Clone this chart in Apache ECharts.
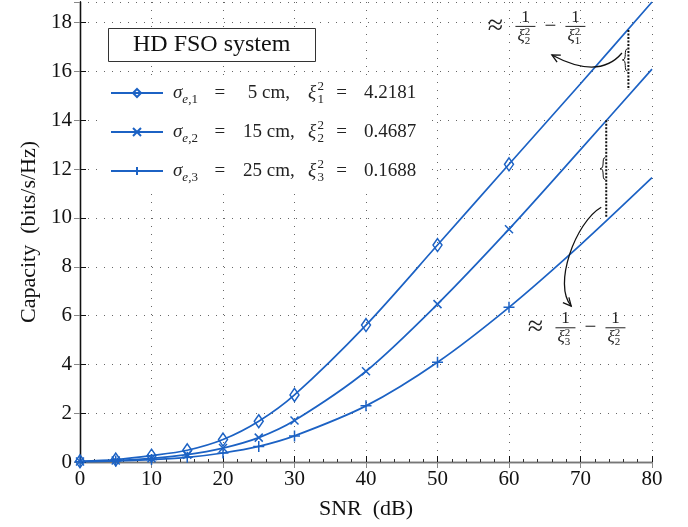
<!DOCTYPE html>
<html>
<head>
<meta charset="utf-8">
<script src="https://cdn.jsdelivr.net/npm/echarts@6/dist/echarts.min.js"></script>
<style>
  html, body { margin: 0; padding: 0; background: #fff; }
  #chart { width: 688px; height: 527px; }
</style>
</head>
<body>
<div id="chart"></div>
<script>
const snr = [0, 5, 10, 15, 20, 25, 30, 40, 50, 60, 70, 80];
const markerSnr = [0, 5, 10, 15, 20, 25, 30, 40, 50, 60];
const capacity1 = [0.03, 0.1, 0.26, 0.48, 0.92, 1.67, 2.75, 5.61, 8.89, 12.2, 15.5, 18.85];
const capacity2 = [0.02, 0.06, 0.15, 0.3, 0.57, 1.0, 1.7, 3.72, 6.47, 9.54, 12.8, 16.1];
const capacity3 = [0.01, 0.04, 0.1, 0.19, 0.37, 0.64, 1.07, 2.3, 4.09, 6.34, 8.9, 11.65];
const seriesNames = ['s1', 's2', 's3'];
const sigmaCm = ['5', '15', '25'];
const xiSquared = ['4.2181', '0.4687', '0.1688'];

const serif = '"Liberation Serif", "DejaVu Serif", serif';
const blue = '#1c62c4';
const chart = echarts.init(document.getElementById('chart'), null, { renderer: 'canvas' });

function seriesData(values) {
  return snr.map((x, i) => ({
    value: [x, values[i]],
    symbol: markerSnr.includes(x) ? undefined : 'none',
  }));
}

function lineSeries(name, values, symbol, size, fill) {
  return {
    name,
    type: 'line',
    smooth: 0.3,
    data: seriesData(values),
    symbol,
    symbolSize: size,
    showAllSymbol: true,
    lineStyle: { color: blue, width: 1.7 },
    itemStyle: { color: fill, borderColor: blue, borderWidth: 1.5 },
    emphasis: { disabled: true },
    z: 3,
  };
}

// right-aligned tail: the zero-width sup ends where the sub ends, so they stack
function legendLabel(name) {
  const i = seriesNames.indexOf(name);
  return `{i|σ}{sbi|e}{sb|,${i + 1}}{eq|=}{v|${sigmaCm[i]} cm,}{gap|}{ir|ξ}{sbz|${i + 1}}{sp|2}{eq2|=}{t|${xiSquared[i]}}`;
}

const richBase = { fontFamily: serif, fontSize: 19, color: '#222', lineHeight: 26 };
const smallRich = { fontFamily: serif, fontSize: 13, color: '#222', lineHeight: 14 };
const legendRich = {
  i: { ...richBase, fontStyle: 'italic' },
  sbi: { ...smallRich, fontStyle: 'italic', verticalAlign: 'bottom' },
  sb: { ...smallRich, verticalAlign: 'bottom' },
  eq: { ...richBase, width: 44, align: 'center' },
  v: { ...richBase, width: 54, align: 'right' },
  gap: { ...richBase, width: 12, align: 'center' },
  ir: { ...richBase, fontStyle: 'italic', align: 'right' },
  sbz: { ...smallRich, verticalAlign: 'bottom', width: 8, align: 'right' },
  sp: { ...smallRich, verticalAlign: 'top', width: 0.01, align: 'right' },
  eq2: { ...richBase, width: 23, align: 'right' },
  t: { ...richBase, align: 'right', padding: [0, 0, 0, 17] },
};

const option = {
  animation: false,
  backgroundColor: '#fff',
  title: {
    text: 'HD FSO system',
    left: 108,
    top: 28,
    padding: [5, 25, 5, 25],
    borderColor: '#333',
    borderWidth: 1,
    backgroundColor: '#fff',
    textStyle: { fontFamily: serif, fontSize: 24, fontWeight: 'normal', color: '#111', lineHeight: 24 },
  },
  legend: {
    orient: 'vertical',
    left: 100,
    top: 75,
    padding: [5, 10, 6, 10],
    itemGap: 13,
    itemWidth: 52,
    itemHeight: 10,
    backgroundColor: '#fff',
    selectedMode: false,
    data: seriesNames,
    formatter: legendLabel,
    textStyle: { ...richBase, padding: [0, 0, 0, 5], rich: legendRich },
  },
  grid: { left: 80, right: 36, top: 2, bottom: 65 },
  xAxis: [
    {
      type: 'value',
      min: 0,
      max: 80,
      interval: 10,
      name: 'SNR  (dB)',
      nameLocation: 'middle',
      nameGap: 36,
      nameTextStyle: { fontFamily: serif, fontSize: 22, color: '#111' },
      axisLine: { lineStyle: { color: '#111', width: 1.3 } },
      axisTick: { inside: true, length: 6, lineStyle: { color: '#111' } },
      minorTick: { show: true, splitNumber: 5, length: 3, lineStyle: { color: '#333' } },
      axisLabel: { fontFamily: serif, fontSize: 21, color: '#111', margin: 7 },
      splitLine: { show: true, lineStyle: { color: '#666', width: 1, type: [1, 7] } },
    },
    {
      type: 'value',
      position: 'top',
      min: 0,
      max: 80,
      interval: 10,
      axisLine: { show: true, lineStyle: { color: '#777', width: 1 } },
      axisTick: { show: true, inside: true, length: 6, lineStyle: { color: '#888' } },
      axisLabel: { show: false },
      splitLine: { show: false },
    },
  ],
  yAxis: [
    {
      type: 'value',
      min: 0,
      max: 18.85,
      interval: 2,
      name: 'Capacity  (bits/s/Hz)',
      nameLocation: 'middle',
      nameGap: 40,
      nameTextStyle: { fontFamily: serif, fontSize: 22, color: '#111' },
      axisLine: { show: true, lineStyle: { color: '#111', width: 1.3 } },
      axisTick: { inside: true, length: 6, lineStyle: { color: '#111' } },
      axisLabel: { fontFamily: serif, fontSize: 21, color: '#111', margin: 8, showMaxLabel: false },
      splitLine: { show: true, lineStyle: { color: '#666', width: 1, type: [1, 7] } },
    },
    {
      type: 'value',
      position: 'right',
      min: 0,
      max: 18.85,
      interval: 2,
      axisLine: { show: true, lineStyle: { color: '#111', width: 1.3 } },
      axisTick: { show: true, inside: true, length: 6, lineStyle: { color: '#888' } },
      axisLabel: { show: false },
      splitLine: { show: false },
    },
  ],
  series: [
    lineSeries('s1', capacity1, 'diamond', [9, 13], 'rgba(255,255,255,0)'),
    lineSeries('s2', capacity2, 'path://M0,0L10,10M10,0L0,10', 8, blue),
    lineSeries('s3', capacity3, 'path://M5,0L5,10M0,5L10,5', 11, blue),
  ],
};

chart.setOption(option);

// annotation anchors (data coordinates)
const gapLines = [
  { x: 76.7, top: 17.7, bottom: 15.25 },
  { x: 73.6, top: 14.0, bottom: 10.05 },
];
const labelAnchors = [
  { at: [58.1, 17.85], a: '2', b: '1' },
  { at: [63.7, 5.5], a: '3', b: '2' },
];
const arrow1 = [[75.8, 16.76], [72.6, 15.65], [66.0, 16.68]];
const arrow2 = [[72.9, 10.44], [69.3, 9.83], [66.1, 7.25], [68.7, 6.39]];

function px(p) {
  return chart.convertToPixel({ gridIndex: 0 }, p);
}

const ink = { stroke: '#111', lineWidth: 1.3, fill: null };

function arrowHead(tip, from) {
  const dx = tip[0] - from[0];
  const dy = tip[1] - from[1];
  const len = Math.hypot(dx, dy);
  const ux = dx / len, uy = dy / len;
  const s = 8, w = 4;
  const a = [tip[0] - ux * s - uy * w, tip[1] - uy * s + ux * w];
  const b = [tip[0] - ux * s + uy * w, tip[1] - uy * s - ux * w];
  return { type: 'polyline', shape: { points: [a, tip, b] }, style: ink, z: 10 };
}

function brace(x, m, h) {
  return [
    { type: 'bezierCurve', shape: { x1: x + 1, y1: m - h, cpx1: x - 3, cpy1: m - h, cpx2: x + 1, cpy2: m, x2: x - 4, y2: m }, style: { ...ink, lineWidth: 1 }, z: 10 },
    { type: 'bezierCurve', shape: { x1: x - 4, y1: m, cpx1: x + 1, cpy1: m, cpx2: x - 3, cpy2: m + h, x2: x + 1, y2: m + h }, style: { ...ink, lineWidth: 1 }, z: 10 },
  ];
}

function fraction(cx, cy, idx) {
  const small = { fontFamily: serif, fontSize: 11, fill: '#222' };
  return [
    { type: 'text', x: cx, y: cy - 9, style: { text: '1', fontFamily: serif, fontSize: 17, fill: '#222', align: 'center', verticalAlign: 'middle' }, z: 10 },
    { type: 'line', shape: { x1: cx - 10, y1: cy, x2: cx + 10, y2: cy }, style: { stroke: '#222', lineWidth: 1 }, z: 10 },
    {
      type: 'text',
      x: cx - 8,
      y: cy + 10,
      style: {
        text: `{i|ξ}{sp|2}{sb|${idx}}`,
        align: 'left',
        verticalAlign: 'middle',
        rich: {
          i: { fontFamily: serif, fontSize: 17, fontStyle: 'italic', fill: '#222', lineHeight: 20 },
          sp: { ...small, lineHeight: 10, verticalAlign: 'top', width: 0.01, align: 'left' },
          sb: { ...small, lineHeight: 10, verticalAlign: 'bottom', width: 7, align: 'left' },
        },
      },
      z: 10,
    },
  ];
}

function buildAnnotations() {
  const g = [];
  gapLines.forEach((gl) => {
    const t = px([gl.x, gl.top]);
    const b = px([gl.x, gl.bottom]);
    g.push({
      type: 'line',
      shape: { x1: t[0], y1: t[1], x2: b[0], y2: b[1] },
      style: { stroke: '#111', lineWidth: 2, lineDash: [2, 1.5] },
      z: 10,
    });
    g.push(...brace(t[0] - 2, (t[1] + b[1]) / 2, 11));
  });
  labelAnchors.forEach((la) => {
    const p = px(la.at);
    g.push({ type: 'text', x: p[0], y: p[1], style: { text: '≈', fontFamily: serif, fontSize: 28, fill: '#222', align: 'center', verticalAlign: 'middle' }, z: 10 });
    g.push(...fraction(p[0] + 30, p[1], la.a));
    g.push({ type: 'text', x: p[0] + 55, y: p[1], style: { text: '−', fontFamily: serif, fontSize: 21, fill: '#222', align: 'center', verticalAlign: 'middle' }, z: 10 });
    g.push(...fraction(p[0] + 80, p[1], la.b));
  });
  const a1 = arrow1.map(px);
  g.push({
    type: 'bezierCurve',
    shape: { x1: a1[0][0], y1: a1[0][1], cpx1: a1[1][0], cpy1: a1[1][1], x2: a1[2][0], y2: a1[2][1] },
    style: ink,
    z: 10,
  });
  g.push(arrowHead(a1[2], a1[1]));
  const a2 = arrow2.map(px);
  g.push({
    type: 'bezierCurve',
    shape: { x1: a2[0][0], y1: a2[0][1], cpx1: a2[1][0], cpy1: a2[1][1], cpx2: a2[2][0], cpy2: a2[2][1], x2: a2[3][0], y2: a2[3][1] },
    style: ink,
    z: 10,
  });
  g.push(arrowHead(a2[3], a2[2]));
  chart.setOption({ graphic: g });
}

buildAnnotations();
</script>
</body>
</html>
